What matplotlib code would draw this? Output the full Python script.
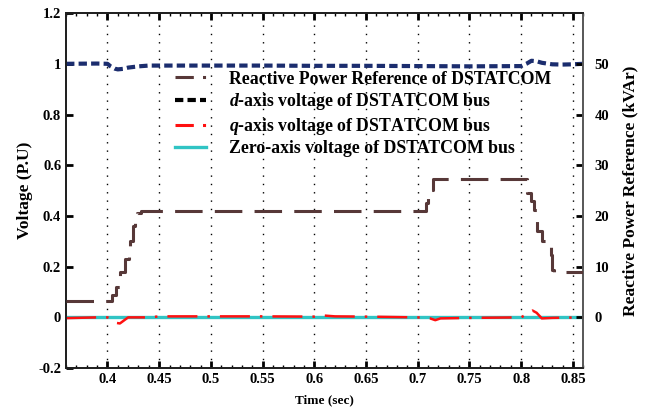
import numpy as np
import matplotlib
matplotlib.use('Agg')
import matplotlib.pyplot as plt
from matplotlib.ticker import MultipleLocator

plt.rcParams['font.family'] = 'Liberation Serif'
plt.rcParams['font.weight'] = 'bold'
plt.rcParams['mathtext.fontset'] = 'custom'
plt.rcParams['mathtext.it'] = 'Liberation Serif:bold:italic'
plt.rcParams['mathtext.rm'] = 'Liberation Serif:bold'

###############################################################################
# Data
###############################################################################
# reactive power reference (kVAr), stepped
t_qref = [0.36, 0.4040, 0.4084, 0.4126, 0.4168, 0.4206, 0.4222, 0.4248, 0.4270,
          0.4290, 0.4320, 0.7077, 0.7100, 0.7126, 0.7150, 0.8061, 0.8100, 0.8125,
          0.8157, 0.8206, 0.8245, 0.8287, 0.8300, 0.8320, 0.86]
qref = [3.2, 4.4, 6.0, 9.0, 11.6, 13.0, 15.1, 18.0, 20.3,
        20.6, 21.0, 22.6, 24.2, 25.2, 27.2, 24.5, 22.9, 21.2,
        17.0, 15.0, 14.0, 12.3, 9.4, 9.0, 9.0]

# d-axis voltage (p.u)
t_vd = [0.36, 0.39, 0.40, 0.403, 0.407, 0.41, 0.415, 0.42, 0.43, 0.44, 0.50,
        0.55, 0.60, 0.65, 0.70, 0.75, 0.80, 0.805, 0.81, 0.815, 0.82, 0.83,
        0.84, 0.85, 0.86]
vd = [1.0, 1.001, 1.0, 0.99, 0.981, 0.978, 0.980, 0.985, 0.990, 0.993, 0.993,
      0.993, 0.992, 0.992, 0.991, 0.990, 0.991, 1.0, 1.012, 1.010, 1.004, 0.998,
      0.997, 0.998, 1.0]

# q-axis voltage (p.u)
t_vq = [0.36, 0.39, 0.40, 0.405, 0.409, 0.412, 0.42, 0.44, 0.45, 0.47, 0.50,
        0.55, 0.60, 0.607, 0.62, 0.65, 0.70, 0.712, 0.717, 0.722, 0.75, 0.80,
        0.805, 0.811, 0.815, 0.82, 0.83, 0.86]
vq = [-0.003, 0.0, 0.0, -0.01, -0.022, -0.024, 0.0, 0.0, 0.004, 0.004, 0.004,
      0.004, 0.003, 0.008, 0.004, 0.003, 0.0, -0.004, -0.011, -0.004, -0.002, 0.0,
      0.012, 0.027, 0.018, -0.004, -0.002, 0.0]

# zero-axis voltage (p.u)
t_v0 = [0.36, 0.86]
v0 = [0.0, 0.0]

xticks = [0.4, 0.45, 0.5, 0.55, 0.6, 0.65, 0.7, 0.75, 0.8, 0.85]
xtick_labels = ['0.4', '0.45', '0.5', '0.55', '0.6', '0.65', '0.7', '0.75', '0.8', '0.85']
yticks = [-0.2, 0, 0.2, 0.4, 0.6, 0.8, 1.0, 1.2]
ytick_labels = ['-0.2', '0', '0.2', '0.4', '0.6', '0.8', '1', '1.2']
y2ticks = [0, 10, 20, 30, 40, 50]

###############################################################################
# Colors
###############################################################################
brColor = '#573838'
dColor = '#1b2d6e'
qColor = '#ff1010'
zColor = '#30c4c4'

###############################################################################
# Plot
###############################################################################
fig = plt.figure(figsize=(6.48, 4.09), dpi=100)
ax = fig.add_axes([0.102, 0.100, 0.798, 0.868])
ax2 = ax.twinx()

ax.set_xlim(0.36, 0.86)
ax.set_ylim(-0.2, 1.2)
ax2.set_ylim(-10, 60)

for xt in xticks:
    ax.axvline(xt, color='black', ls=(0, (1, 5)), lw=1.0, zorder=0)

ax.plot(t_v0, v0, color=zColor, lw=2.4, zorder=3)
ax.plot(t_vq, vq, color=qColor, lw=1.8, ls=(0, (12, 4, 1, 4)), zorder=4)
ax.plot(t_vd, vd, color=dColor, lw=3.0, ls=(0, (2, 1)), zorder=4)
ax2.plot(t_qref, qref, color=brColor, lw=2.2, drawstyle='steps-post',
         ls=(0, (9, 4)), zorder=4)

# legend handles
h_ref, = ax.plot([], [], color=brColor, lw=2.2, ls=(0, (6, 3, 1, 3)))
h_d, = ax.plot([], [], color='black', lw=3.0, ls=(0, (2, 1)))
h_q, = ax.plot([], [], color=qColor, lw=2.2, ls=(0, (6, 3, 1, 3)))
h_z, = ax.plot([], [], color=zColor, lw=2.4)
ax.legend(
    [h_ref, h_d, h_q, h_z],
    ['Reactive Power Reference of DSTATCOM',
     '$d$-axis voltage of DSTATCOM bus',
     '$q$-axis voltage of DSTATCOM bus',
     'Zero-axis voltage of DSTATCOM bus'],
    loc='upper left', bbox_to_anchor=(0.18, 0.883), frameon=False,
    prop={'family': 'Liberation Serif', 'weight': 'bold', 'size': 12.8},
    handlelength=1.75, handletextpad=1.3, labelspacing=0.2
)

ax.set_xticks(xticks)
ax.set_xticklabels(xtick_labels)
ax.set_yticks(yticks)
ax.set_yticklabels(ytick_labels)
ax.xaxis.set_minor_locator(MultipleLocator(0.01))
ax2.set_yticks(y2ticks)

ax.tick_params(axis='both', which='major', direction='in', length=5, width=2,
               labelsize=10.5, top=True)
ax.tick_params(axis='x', which='minor', direction='in', length=2, width=1,
               top=True)
ax.tick_params(axis='y', which='both', right=False)
ax2.tick_params(axis='y', which='major', direction='in', length=5, width=2,
                labelsize=10.5, pad=8)

for a in (ax, ax2):
    for s in a.spines.values():
        s.set_linewidth(1.3)
        s.set_color('#202020')
ax2.spines['right'].set_color('#606060')

ax.set_xlabel('Time (sec)', fontsize=9.5, fontweight='bold', labelpad=6)
ax.set_ylabel('Voltage (P.U)', fontsize=12.5, fontweight='bold', labelpad=4)
ax2.set_ylabel('Reactive Power Reference (kVAr)', fontsize=12.5,
               fontweight='bold', labelpad=10)

###############################################################################
# Export
###############################################################################
fig.savefig('out.png', dpi=100, facecolor='white')
plt.close('all')
